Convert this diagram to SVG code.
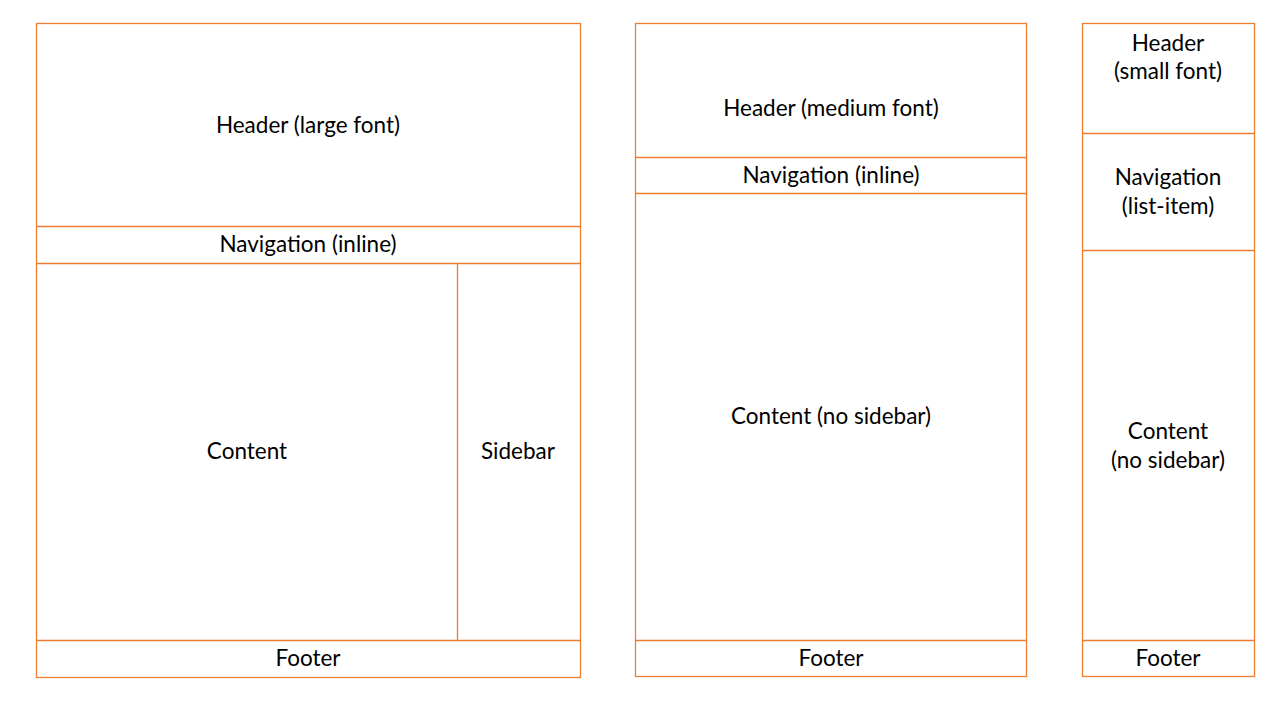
<svg xmlns="http://www.w3.org/2000/svg" width="1280" height="720" viewBox="0 0 1280 720">
<style>
.box{fill:none;stroke:#ED7D31;stroke-width:1.3}
.ln{stroke:#ED7D31;stroke-width:1.3}
text{font-family:Lato,"Open Sans","Liberation Sans",sans-serif;font-size:22.5px;fill:#000;text-anchor:middle}
</style>
<rect width="1280" height="720" fill="#fff"/>
<g id="layout-large">
  <rect class="box" x="36.5" y="23.5" width="544" height="654"/>
  <g id="l1-header"><text x="308" y="133">Header (large font)</text></g>
  <g id="l1-nav"><line class="ln" x1="36.5" y1="226.5" x2="580.5" y2="226.5"/><text x="308" y="252">Navigation (inline)</text></g>
  <g id="l1-content"><line class="ln" x1="36.5" y1="263.5" x2="580.5" y2="263.5"/><text x="247" y="459">Content</text></g>
  <g id="l1-sidebar"><line class="ln" x1="457.5" y1="263.5" x2="457.5" y2="640.5"/><text x="518" y="459">Sidebar</text></g>
  <g id="l1-footer"><line class="ln" x1="36.5" y1="640.5" x2="580.5" y2="640.5"/><text x="308" y="666">Footer</text></g>
</g>
<g id="layout-medium">
  <rect class="box" x="635.5" y="23.5" width="391" height="653"/>
  <g id="l2-header"><text x="831" y="116">Header (medium font)</text></g>
  <g id="l2-nav"><line class="ln" x1="635.5" y1="157.5" x2="1026.5" y2="157.5"/><text x="831" y="183">Navigation (inline)</text></g>
  <g id="l2-content"><line class="ln" x1="635.5" y1="193.5" x2="1026.5" y2="193.5"/><text x="831" y="424">Content (no sidebar)</text></g>
  <g id="l2-footer"><line class="ln" x1="635.5" y1="640.5" x2="1026.5" y2="640.5"/><text x="831" y="666">Footer</text></g>
</g>
<g id="layout-small">
  <rect class="box" x="1082.5" y="23.5" width="172" height="653"/>
  <g id="l3-header"><text x="1168" y="51">Header</text><text x="1168" y="79">(small font)</text></g>
  <g id="l3-nav"><line class="ln" x1="1082.5" y1="133.5" x2="1254.5" y2="133.5"/><text x="1168" y="185">Navigation</text><text x="1168" y="214">(list-item)</text></g>
  <g id="l3-content"><line class="ln" x1="1082.5" y1="250.5" x2="1254.5" y2="250.5" stroke-width="2"/><text x="1168" y="439">Content</text><text x="1168" y="468">(no sidebar)</text></g>
  <g id="l3-footer"><line class="ln" x1="1082.5" y1="640.5" x2="1254.5" y2="640.5"/><text x="1168" y="666">Footer</text></g>
</g>
<g id="connectors"></g>
</svg>
